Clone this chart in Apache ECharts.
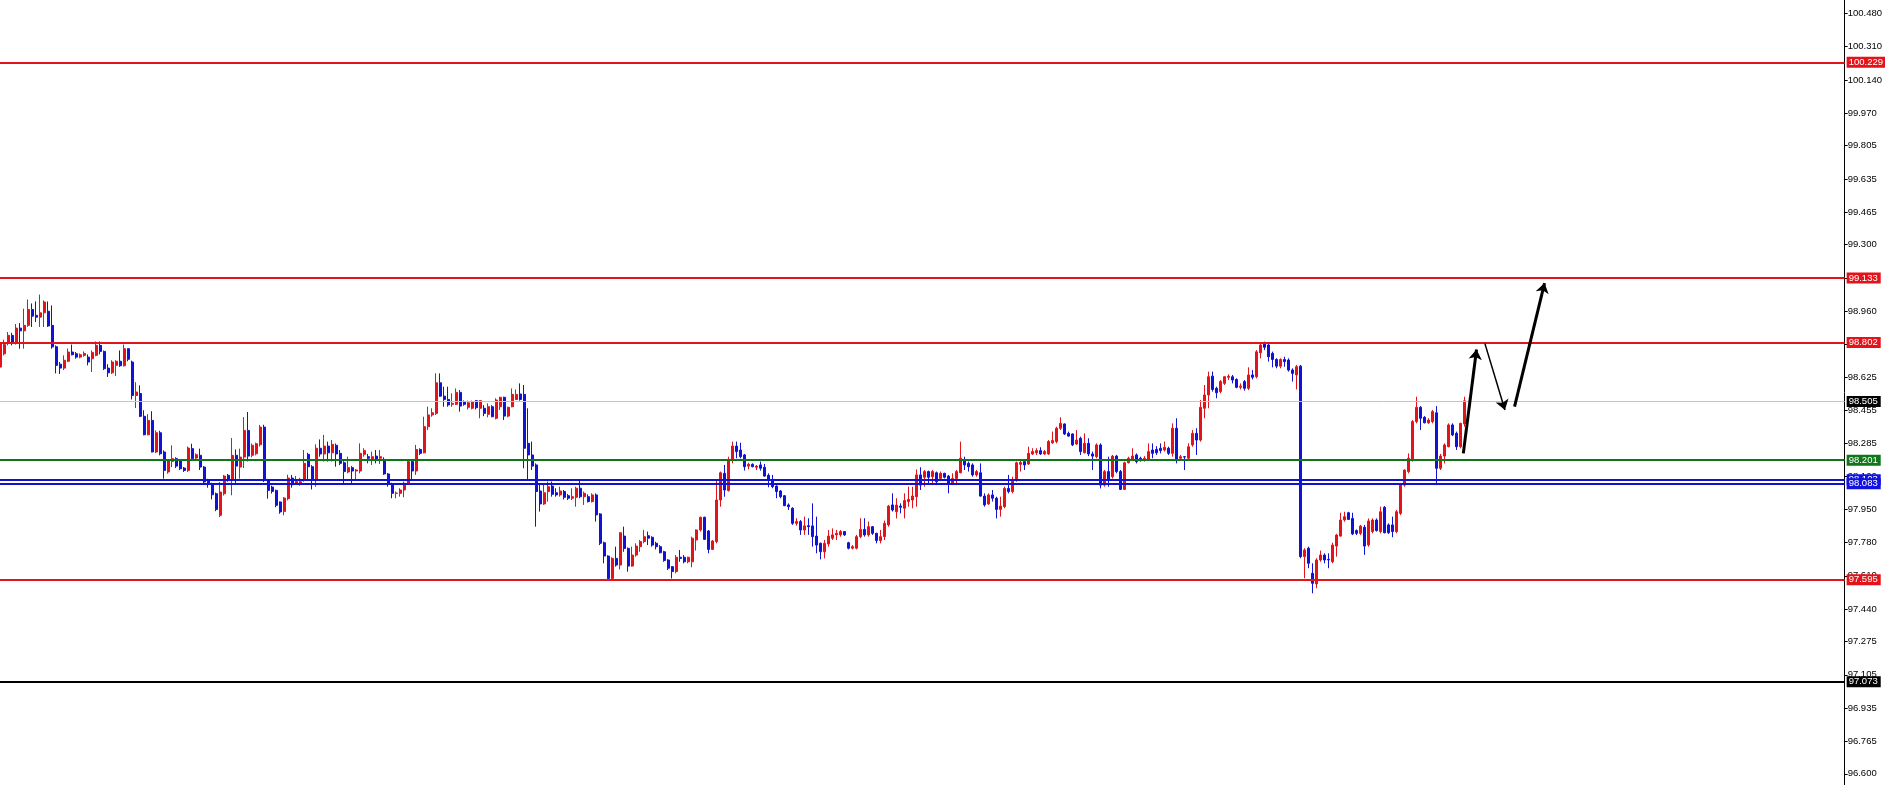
<!DOCTYPE html>
<html><head><meta charset="utf-8">
<script src="https://cdn.jsdelivr.net/npm/echarts@6/dist/echarts.min.js"></script>
<style>html,body{margin:0;padding:0;background:#fff}#c{width:1885px;height:785px}</style>
</head><body><div id="c"></div>
<script>
// candles: [open, close, low, high]
const ohlc = [
[98.675,98.794,98.660,98.803],[98.743,98.790,98.735,98.815],[98.803,98.837,98.786,98.854],[98.837,98.803,98.786,98.850],
[98.803,98.874,98.790,98.895],[98.874,98.860,98.769,98.900],[98.860,98.888,98.769,98.973],[98.888,98.969,98.880,99.020],
[98.969,98.935,98.880,99.000],[98.939,98.930,98.905,99.010],[98.930,98.952,98.880,99.045],[98.952,99.007,98.880,99.015],
[98.960,98.885,98.880,99.010],[98.888,98.778,98.769,98.990],[98.779,98.684,98.643,98.786],[98.690,98.670,98.640,98.701],
[98.670,98.710,98.660,98.735],[98.705,98.752,98.700,98.770],[98.752,98.738,98.735,98.790],[98.743,98.726,98.718,98.752],
[98.726,98.738,98.720,98.745],[98.735,98.745,98.728,98.755],[98.726,98.701,98.684,98.740],[98.718,98.750,98.650,98.760],
[98.735,98.786,98.730,98.806],[98.786,98.755,98.740,98.806],[98.755,98.667,98.660,98.760],[98.670,98.646,98.625,98.690],
[98.646,98.701,98.640,98.710],[98.684,98.705,98.630,98.710],[98.705,98.682,98.676,98.760],[98.682,98.769,98.678,98.790],
[98.769,98.715,98.705,98.770],[98.701,98.530,98.510,98.708],[98.530,98.548,98.466,98.598],[98.540,98.424,98.420,98.582],
[98.424,98.330,98.327,98.455],[98.330,98.403,98.327,98.435],[98.403,98.242,98.240,98.450],[98.242,98.340,98.236,98.352],
[98.340,98.233,98.225,98.350],[98.242,98.148,98.106,98.250],[98.140,98.199,98.131,98.205],[98.194,98.208,98.165,98.276],
[98.208,98.170,98.160,98.215],[98.199,98.157,98.150,98.205],[98.160,98.148,98.140,98.165],[98.148,98.262,98.140,98.270],
[98.259,98.208,98.200,98.284],[98.211,98.228,98.205,98.235],[98.225,98.165,98.150,98.259],[98.165,98.089,98.080,98.170],
[98.097,98.077,98.060,98.105],[98.080,98.024,98.000,98.085],[98.029,97.949,97.940,98.035],[97.919,98.038,97.910,98.089],
[98.029,98.119,98.020,98.125],[98.123,98.102,98.090,98.130],[98.102,98.225,98.021,98.313],[98.225,98.170,98.080,98.255],
[98.165,98.216,98.106,98.259],[98.216,98.352,98.160,98.420],[98.352,98.221,98.194,98.446],[98.225,98.276,98.215,98.285],
[98.233,98.284,98.225,98.290],[98.279,98.369,98.270,98.380],[98.369,98.097,98.089,98.381],[98.097,98.046,98.004,98.105],
[98.063,98.041,98.030,98.070],[98.046,97.970,97.960,98.050],[97.987,97.936,97.927,97.990],[97.939,98.007,97.919,98.012],
[98.004,98.109,97.995,98.126],[98.109,98.075,98.060,98.125],[98.082,98.092,98.075,98.120],
[98.082,98.090,98.070,98.110],[98.102,98.184,98.090,98.252],[98.230,98.167,98.102,98.238],[98.167,98.102,98.051,98.175],
[98.102,98.261,98.065,98.281],[98.261,98.232,98.218,98.306],[98.232,98.272,98.193,98.329],[98.272,98.238,98.193,98.295],
[98.238,98.281,98.193,98.303],[98.276,98.232,98.167,98.285],[98.235,98.184,98.175,98.252],[98.187,98.142,98.082,98.195],
[98.140,98.162,98.133,98.218],[98.162,98.145,98.082,98.170],[98.145,98.150,98.102,98.155],[98.145,98.235,98.133,98.286],
[98.230,98.249,98.218,98.261],[98.218,98.210,98.184,98.232],[98.201,98.218,98.176,98.244],[98.221,98.201,98.184,98.252],
[98.210,98.218,98.181,98.252],[98.204,98.130,98.125,98.215],[98.130,98.082,98.065,98.135],[98.079,98.031,98.006,98.085],
[98.031,98.032,98.006,98.040],[98.031,98.048,98.014,98.057],[98.048,98.082,98.011,98.091],[98.082,98.193,98.079,98.201],
[98.193,98.145,98.102,98.201],[98.145,98.255,98.125,98.278],[98.255,98.235,98.227,98.261],[98.238,98.371,98.235,98.422],
[98.371,98.431,98.354,98.473],[98.431,98.442,98.422,98.465],[98.439,98.595,98.431,98.643],[98.595,98.527,98.524,98.643],
[98.527,98.510,98.473,98.575],[98.510,98.482,98.473,98.575],[98.485,98.490,98.473,98.541],[98.485,98.546,98.481,98.566],
[98.546,98.476,98.448,98.558],[98.499,98.485,98.478,98.505],[98.470,98.493,98.459,98.504],[98.465,98.499,98.459,98.504],
[98.504,98.468,98.459,98.507],[98.465,98.504,98.414,98.507],[98.465,98.439,98.425,98.481],[98.434,98.473,98.419,98.490],
[98.473,98.422,98.419,98.481],[98.414,98.507,98.408,98.516],[98.473,98.521,98.456,98.524],[98.521,98.425,98.405,98.524],
[98.425,98.470,98.419,98.473],[98.473,98.536,98.470,98.566],[98.510,98.536,98.507,98.561],[98.538,98.510,98.504,98.592],
[98.536,98.261,98.159,98.584],[98.286,98.227,98.096,98.465],[98.227,98.170,98.150,98.295],[98.176,98.040,97.861,98.184],
[98.043,97.977,97.938,98.082],[97.977,98.034,97.972,98.074],[98.040,98.065,97.989,98.091],[98.068,98.026,98.014,98.091],
[98.034,98.023,98.014,98.057],[98.023,98.043,98.014,98.065],[98.040,98.011,98.000,98.048],[98.019,98.006,97.997,98.028],
[98.006,98.014,97.997,98.057],[98.011,98.057,97.963,98.065],[98.057,98.014,98.006,98.096],[98.014,98.031,97.972,98.040],
[98.014,97.989,97.984,98.026],[97.989,98.023,97.984,98.031],[98.023,97.921,97.887,98.031],
[97.926,97.776,97.767,97.930],[97.779,97.711,97.674,97.785],[97.711,97.597,97.592,97.715],[97.597,97.699,97.589,97.705],
[97.699,97.665,97.657,97.759],[97.665,97.830,97.643,97.832],[97.813,97.750,97.733,97.861],[97.750,97.660,97.631,97.755],
[97.660,97.716,97.657,97.759],[97.716,97.762,97.708,97.776],[97.759,97.785,97.733,97.793],[97.785,97.810,97.776,97.844],
[97.815,97.802,97.767,97.836],[97.807,97.767,97.759,97.812],[97.776,97.759,97.745,97.784],[97.759,97.728,97.725,97.767],
[97.733,97.688,97.682,97.738],[97.691,97.649,97.640,97.695],[97.657,97.632,97.597,97.660],[97.632,97.705,97.623,97.716],
[97.705,97.699,97.682,97.742],[97.705,97.682,97.674,97.716],[97.682,97.705,97.674,97.708],[97.682,97.802,97.654,97.810],
[97.793,97.844,97.739,97.847],[97.844,97.909,97.836,97.912],[97.909,97.796,97.793,97.912],[97.839,97.745,97.725,97.844],
[97.745,97.788,97.742,97.793],[97.785,97.997,97.776,98.099],[97.997,98.136,97.963,98.142],[98.133,98.048,98.014,98.176],
[98.045,98.204,98.040,98.218],[98.201,98.272,98.184,98.295],[98.272,98.244,98.210,98.295],[98.252,98.218,98.210,98.289],
[98.227,98.167,98.147,98.232],[98.170,98.179,98.153,98.187],[98.179,98.167,98.164,98.184],[98.164,98.170,98.150,98.176],
[98.176,98.159,98.147,98.193],[98.164,98.119,98.116,98.181],[98.123,98.099,98.062,98.133],[98.099,98.065,98.057,98.125],
[98.068,98.040,98.006,98.072],[98.043,98.014,98.006,98.048],[98.019,97.968,97.966,98.022],[97.972,97.963,97.946,97.980],
[97.955,97.878,97.870,97.960],[97.878,97.887,97.866,97.904],[97.887,97.844,97.819,97.895],[97.844,97.865,97.819,97.912],
[97.866,97.861,97.819,97.904],[97.865,97.810,97.759,97.980],[97.813,97.767,97.725,97.912],[97.776,97.733,97.694,97.780],
[97.733,97.776,97.699,97.793],[97.773,97.813,97.759,97.844],[97.802,97.819,97.793,97.852],[97.819,97.827,97.793,97.844],
[97.819,97.836,97.810,97.844],[97.836,97.819,97.814,97.836],[97.779,97.751,97.745,97.784],[97.751,97.759,97.745,97.767],
[97.751,97.810,97.745,97.819],[97.810,97.847,97.802,97.904],[97.847,97.819,97.810,97.904],[97.819,97.861,97.810,97.887],
[97.861,97.827,97.819,97.864],[97.827,97.790,97.776,97.830],[97.790,97.810,97.776,97.844],[97.810,97.878,97.793,97.892],
[97.870,97.966,97.861,97.972],[97.972,97.946,97.938,98.031],
[97.937,97.971,97.903,98.006],[97.966,97.960,97.929,97.980],[97.955,97.994,97.903,98.031],[97.989,98.000,97.963,98.065],
[97.997,98.017,97.955,98.065],[98.014,98.125,97.963,98.153],[98.125,98.073,98.048,98.164],[98.113,98.142,98.065,98.150],
[98.142,98.113,98.082,98.147],[98.116,98.142,98.082,98.150],[98.136,98.090,98.073,98.142],[98.107,98.133,98.099,98.142],
[98.133,98.113,98.107,98.136],[98.119,98.082,98.031,98.125],[98.082,98.107,98.073,98.133],[98.107,98.142,98.073,98.150],
[98.136,98.210,98.133,98.295],[98.201,98.176,98.150,98.218],[98.184,98.167,98.142,98.193],[98.176,98.125,98.116,98.184],
[98.125,98.142,98.116,98.150],[98.136,98.017,98.014,98.184],[98.017,97.972,97.963,98.031],[97.977,98.023,97.972,98.031],
[98.023,98.006,97.989,98.048],[98.006,97.949,97.903,98.014],[97.949,97.966,97.912,98.014],[97.963,98.056,97.955,98.065],
[98.056,98.040,98.031,98.125],[98.040,98.099,98.031,98.116],[98.099,98.187,98.090,98.193],[98.179,98.189,98.142,98.201],
[98.193,98.176,98.150,98.201],[98.181,98.235,98.176,98.269],[98.232,98.244,98.227,98.261],[98.238,98.249,98.227,98.261],
[98.249,98.232,98.227,98.266],[98.232,98.244,98.227,98.252],[98.232,98.295,98.227,98.303],[98.289,98.300,98.283,98.346],
[98.295,98.363,98.286,98.371],[98.363,98.388,98.354,98.419],[98.385,98.334,98.329,98.388],[98.337,98.323,98.320,98.346],
[98.334,98.278,98.272,98.337],[98.283,98.303,98.278,98.354],[98.312,98.244,98.227,98.320],[98.238,98.286,98.235,98.337],
[98.286,98.232,98.221,98.312],[98.232,98.221,98.150,98.244],[98.218,98.278,98.210,98.286],[98.278,98.073,98.056,98.286],
[98.073,98.142,98.065,98.150],[98.142,98.102,98.065,98.218],[98.116,98.221,98.107,98.227],[98.221,98.142,98.133,98.227],
[98.142,98.051,98.048,98.150],[98.051,98.187,98.048,98.193],[98.187,98.210,98.184,98.218],[98.204,98.221,98.198,98.261],
[98.227,98.193,98.184,98.235],[98.210,98.198,98.193,98.218],[98.201,98.210,98.193,98.221],[98.204,98.244,98.201,98.286],
[98.252,98.235,98.210,98.286],[98.255,98.238,98.227,98.272],[98.261,98.249,98.235,98.286],[98.252,98.266,98.244,98.295],
[98.261,98.235,98.227,98.269],[98.235,98.363,98.218,98.388],[98.363,98.201,98.184,98.414],[98.210,98.218,98.201,98.227],
[98.218,98.216,98.150,98.221],[98.210,98.269,98.201,98.286],
[98.278,98.337,98.269,98.354],[98.337,98.303,98.227,98.363],[98.303,98.470,98.295,98.507],[98.465,98.533,98.414,98.584],
[98.533,98.626,98.465,98.652],[98.629,98.561,98.550,98.652],[98.567,98.544,98.516,98.575],[98.550,98.601,98.541,98.609],
[98.592,98.626,98.584,98.629],[98.623,98.629,98.609,98.638],[98.626,98.609,98.592,98.635],[98.612,98.572,98.567,98.618],
[98.572,98.578,98.561,98.592],[98.601,98.567,98.555,98.609],[98.567,98.635,98.558,98.674],[98.635,98.623,98.612,98.660],
[98.626,98.753,98.618,98.762],[98.748,98.788,98.720,98.796],[98.796,98.776,98.762,98.805],[98.788,98.728,98.703,98.796],
[98.745,98.714,98.674,98.754],[98.714,98.680,98.669,98.720],[98.680,98.714,98.669,98.720],[98.714,98.703,98.677,98.728],
[98.711,98.660,98.652,98.720],[98.660,98.643,98.601,98.669],[98.635,98.677,98.561,98.686],[98.680,97.708,97.700,98.686],
[97.708,97.742,97.598,97.751],[97.751,97.674,97.649,97.759],[97.623,97.572,97.521,97.674],[97.569,97.691,97.547,97.700],
[97.691,97.716,97.682,97.739],[97.716,97.691,97.674,97.725],[97.694,97.691,97.649,97.725],[97.682,97.767,97.674,97.779],
[97.762,97.818,97.708,97.824],[97.813,97.895,97.810,97.932],[97.895,97.912,97.886,97.937],[97.932,97.898,97.895,97.937],
[97.903,97.824,97.818,97.932],[97.841,97.827,97.818,97.847],[97.827,97.864,97.818,97.870],[97.858,97.762,97.717,97.870],
[97.768,97.890,97.759,97.903],[97.836,97.895,97.827,97.903],[97.895,97.841,97.836,97.903],[97.836,97.937,97.827,97.963],
[97.960,97.830,97.827,97.966],[97.870,97.830,97.824,97.878],[97.870,97.836,97.807,97.912],[97.836,97.937,97.827,97.946],
[97.929,98.073,97.920,98.082],[98.073,98.150,98.065,98.153],[98.142,98.210,98.133,98.235],[98.201,98.397,98.193,98.405],
[98.397,98.470,98.388,98.524],[98.470,98.414,98.354,98.476],[98.419,98.391,98.388,98.425],[98.391,98.405,98.385,98.414],
[98.397,98.448,98.388,98.456],[98.442,98.159,98.073,98.476],[98.159,98.221,98.150,98.232],[98.221,98.278,98.184,98.286],
[98.269,98.380,98.266,98.388],[98.380,98.329,98.323,98.388],[98.337,98.269,98.252,98.346],[98.269,98.388,98.261,98.391],
[98.385,98.503,98.371,98.524]
];
// y-axis tick values (right price scale)
const yTicks = [100.480,100.310,100.140,99.970,99.805,99.635,99.465,99.300,99.130,98.960,98.790,98.625,98.455,98.285,98.120,97.950,97.780,97.610,97.440,97.275,97.105,96.935,96.765,96.600];
const yMin = 96.543, yMax = 100.548;
// horizontal levels and their kinds
const levelPrices = [100.229, 99.133, 98.802, 98.505, 98.201, 98.103, 98.083, 97.595, 97.073];
const levelKinds  = ['red','red','red','bid','green','blue','blue','red','black'];
// projected path arrows: [candle index, price]
const arrowPaths = [
  [[365.7, 98.235], [369.0, 98.765]],
  [[371.1, 98.795], [376.1, 98.456]],
  [[378.5, 98.473], [386.0, 99.104]]
];
const arrowWeights = ['thick','thin','thick'];
const slotCount = 462;

const FONT = 'Liberation Sans';
const kindStyle = {
  red:   {line:'#e3131b', width:2, bg:'#e3131b', fg:'#ffffff'},
  green: {line:'#10761a', width:2, bg:'#10761a', fg:'#ffffff'},
  blue:  {line:'#1212cc', width:2, bg:'#1212e0', fg:'#ffffff'},
  bid:   {line:'#c4c4c4', width:1, bg:'#000000', fg:'#ffffff'},
  black: {line:'#000000', width:2, bg:'#000000', fg:'#ffffff'}
};
const cats = Array.from({length: slotCount}, (_, i) => String(i));

const markData = levelPrices.map((p, k) => {
  const s = kindStyle[levelKinds[k]];
  return {
    yAxis: p,
    lineStyle: {color: s.line, width: s.width, type: 'solid'},
    label: {
      show: true, position: 'end', distance: 2,
      formatter: () => p.toFixed(3),
      color: s.fg, backgroundColor: s.bg,
      padding: [1, 3, 0, 2], fontSize: 9.5, fontFamily: FONT, lineHeight: 10
    }
  };
});

const chart = echarts.init(document.getElementById('c'));
chart.setOption({
  animation: false,
  backgroundColor: '#ffffff',
  grid: {left: 0, right: 39, top: 0, bottom: 0, containLabel: false},
  xAxis: [
    {type: 'category', data: cats, boundaryGap: false, show: false},
    {type: 'value', min: 0, max: slotCount - 1, show: false}
  ],
  yAxis: {
    type: 'value', position: 'right', min: yMin, max: yMax, scale: true,
    axisLine: {show: true, onZero: false, lineStyle: {color: '#000', width: 1}},
    axisTick: {show: true, inside: false, length: 3, customValues: yTicks, lineStyle: {color: '#000'}},
    axisLabel: {show: true, customValues: yTicks, formatter: v => v.toFixed(3), color: '#000', fontSize: 9.5, fontFamily: FONT, margin: 3},
    splitLine: {show: false}
  },
  series: [
    {
      type: 'candlestick', xAxisIndex: 0, yAxisIndex: 0,
      data: ohlc, barWidth: 2.5,
      itemStyle: {color: '#e3131b', color0: '#1212d6', borderColor: '#e3131b', borderColor0: '#1212d6', borderWidth: 1},
      emphasis: {disabled: true},
      markLine: {silent: true, symbol: ['none', 'none'], animation: false, data: markData, z: 10}
    },
    {
      type: 'lines', coordinateSystem: 'cartesian2d', xAxisIndex: 1, yAxisIndex: 0,
      symbol: ['none', 'arrow'], symbolSize: [6, 10],
      lineStyle: {color: '#000', opacity: 1, curveness: 0},
      data: arrowPaths.map((c, k) => ({coords: c, lineStyle: {color: '#000', opacity: 1, width: arrowWeights[k] === 'thick' ? 3 : 1.5}})),
      z: 20
    }
  ]
});
</script>
</body></html>
